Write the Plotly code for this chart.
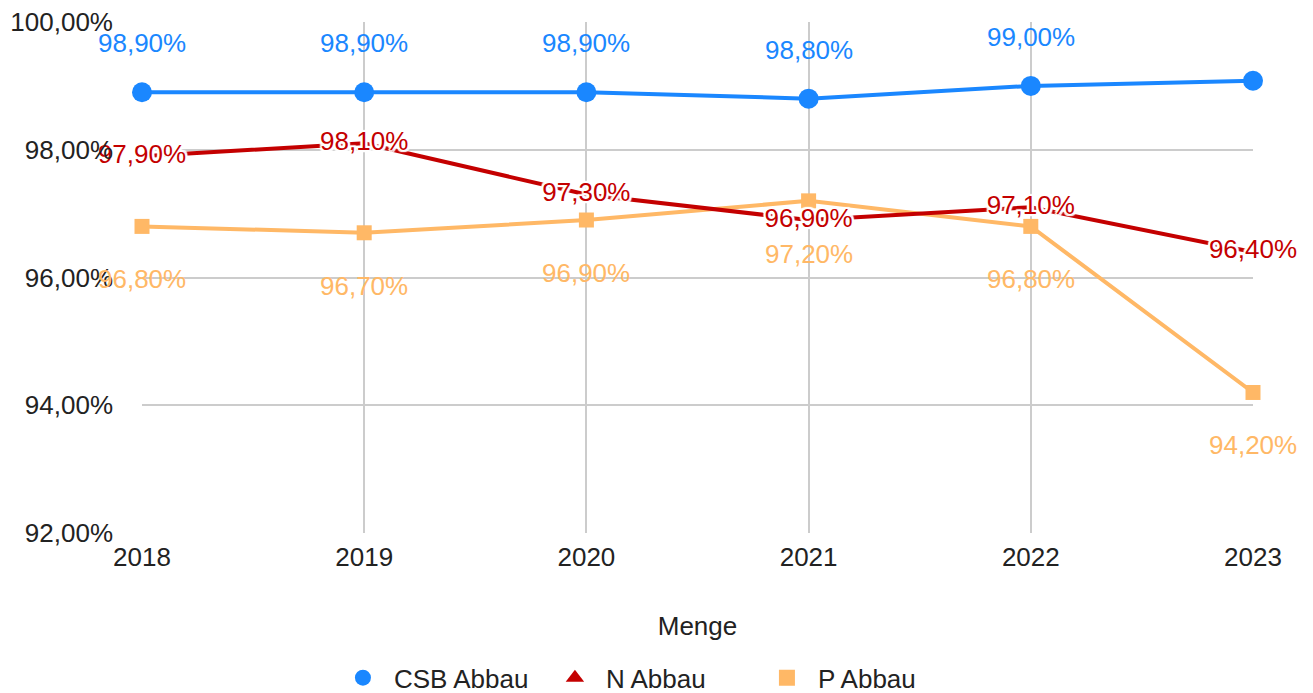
import plotly.graph_objects as go

years = [2018, 2019, 2020, 2021, 2022, 2023]
csb = [98.9, 98.9, 98.9, 98.8, 99.0, 99.08]
n_abbau = [97.9, 98.1, 97.3, 96.9, 97.1, 96.4]
p_abbau = [96.8, 96.7, 96.9, 97.2, 96.8, 94.2]
csb_labels = ["98,90%", "98,90%", "98,90%", "98,80%", "99,00%", ""]
n_labels = ["97,90%", "98,10%", "97,30%", "96,90%", "97,10%", "96,40%"]
p_labels = ["96,80%", "96,70%", "96,90%", "97,20%", "96,80%", "94,20%"]
y_ticks = [92, 94, 96, 98, 100]
y_tick_text = ["92,00%", "94,00%", "96,00%", "98,00%", "100,00%"]

BLUE = "#1a87ff"
RED = "#c40000"
ORANGE = "#ffb866"
FONT = "Liberation Sans, Arial, sans-serif"
FS = 26
HALO = "2px 0 1px white, -2px 0 1px white, 0 2px 1px white, 0 -2px 1px white, 2px 2px 1px white, -2px -2px 1px white, 2px -2px 1px white, -2px 2px 1px white"

fig = go.Figure()

fig.add_trace(go.Scatter(
    x=years, y=p_abbau, mode="lines+markers", showlegend=False,
    line=dict(color=ORANGE, width=4),
    marker=dict(symbol="square", size=15, color=ORANGE),
    cliponaxis=False,
))
fig.add_trace(go.Scatter(
    x=years, y=n_abbau, mode="lines+text", showlegend=False,
    line=dict(color=RED, width=4),
    text=n_labels, textposition="middle center",
    textfont=dict(color=RED, size=FS, family=FONT, shadow=HALO),
    cliponaxis=False,
))
fig.add_trace(go.Scatter(
    x=years, y=csb, mode="lines+markers", showlegend=False,
    line=dict(color=BLUE, width=4),
    marker=dict(symbol="circle", size=20, color=BLUE),
    cliponaxis=False,
))

for x, y, t in zip(years, csb, csb_labels):
    if t:
        fig.add_annotation(x=x, y=y, text=t, showarrow=False, yshift=49,
                           font=dict(color=BLUE, size=FS, family=FONT))
for x, y, t in zip(years, p_abbau, p_labels):
    fig.add_annotation(x=x, y=y, text=t, showarrow=False, yshift=-53,
                       font=dict(color=ORANGE, size=FS, family=FONT))

# legend-only entries
fig.add_trace(go.Scatter(x=[None], y=[None], mode="markers", name="CSB Abbau",
                         marker=dict(symbol="circle", size=24, color=BLUE)))
fig.add_trace(go.Scatter(x=[None], y=[None], mode="markers", name="N Abbau",
                         marker=dict(symbol="triangle-up", size=20, color=RED)))
fig.add_trace(go.Scatter(x=[None], y=[None], mode="markers", name="P Abbau",
                         marker=dict(symbol="square", size=18, color=ORANGE)))

fig.update_layout(
    width=1313, height=693,
    margin=dict(l=142, r=60, t=22, b=160),
    paper_bgcolor="white", plot_bgcolor="white",
    font=dict(family=FONT, size=FS, color="#222222"),
    showlegend=True,
    legend=dict(orientation="h", xref="container", x=0.495, xanchor="center",
                yref="container", y=0.022, yanchor="middle",
                font=dict(size=FS, color="#222222"), itemsizing="trace",
                itemwidth=52, entrywidth=145, entrywidthmode="pixels",
                traceorder="normal"),
    xaxis=dict(
        range=[2018, 2023], tickmode="array", tickvals=years,
        ticktext=[str(y) for y in years],
        showgrid=True, gridcolor="#cccccc", gridwidth=2,
        zeroline=False, showline=False, ticks="", automargin=False,
        ticklabelstandoff=6,
        title=dict(text="Menge", font=dict(size=FS, color="#222222"), standoff=45),
        tickfont=dict(size=FS, color="#222222"),
    ),
    yaxis=dict(
        range=[92, 100], tickmode="array", tickvals=y_ticks, ticktext=y_tick_text,
        showgrid=True, gridcolor="#cccccc", gridwidth=2,
        zeroline=False, showline=False, ticks="", automargin=False,
        ticklabelstandoff=28,
        tickfont=dict(size=FS, color="#222222"),
    ),
)

fig.write_html("out.html", config={"displayModeBar": False},
               post_script="document.body.style.margin='0';")
